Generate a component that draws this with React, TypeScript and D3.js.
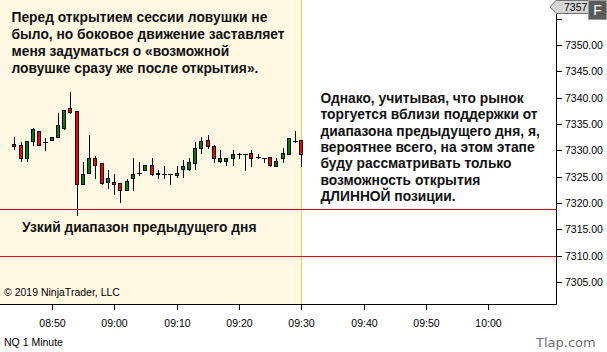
import React from 'react';
import * as d3 from 'd3';

const times = [
  "08:44", "08:45", "08:46", "08:47", "08:48", "08:49", "08:50", "08:51", "08:52", "08:53",
  "08:54", "08:55", "08:56", "08:57", "08:58", "08:59", "09:00", "09:01", "09:02", "09:03",
  "09:04", "09:05", "09:06", "09:07", "09:08", "09:09", "09:10", "09:11", "09:12", "09:13",
  "09:14", "09:15", "09:16", "09:17", "09:18", "09:19", "09:20", "09:21", "09:22", "09:23",
  "09:24", "09:25", "09:26", "09:27", "09:28", "09:29", "09:30",
];
const opens = [
  7331.25, 7331, 7328.5, 7331.75, 7333.75, 7331.5, 7332, 7332.5, 7334.25, 7338,
  7337.5, 7323.5, 7325.75, 7328.5, 7327.5, 7324, 7324, 7323.75, 7322.5, 7324.75,
  7325.75, 7326.25, 7327.25, 7325.75, 7325.5, 7325.5, 7325.25, 7326.5, 7326.5, 7327.5,
  7330.5, 7332, 7330.75, 7328, 7328, 7328.5, 7329.25, 7329.25, 7329.5, 7328.75,
  7328.5, 7328.75, 7327, 7328.5, 7329.25, 7331.75, 7332,
];
const highs = [
  7332.5, 7331.5, 7331.75, 7334.25, 7333.75, 7332.25, 7332.5, 7337, 7337.75, 7341,
  7337.5, 7327.75, 7333, 7329, 7327.5, 7326.25, 7325.5, 7323.75, 7324.5, 7328.5,
  7327.75, 7327.25, 7328.5, 7326.25, 7327, 7325.5, 7327, 7328.25, 7328.5, 7331.5,
  7332.5, 7333, 7331, 7330, 7328.5, 7330, 7329.5, 7329.25, 7330, 7329.25,
  7328.5, 7328.75, 7328.5, 7330.5, 7332.25, 7333.75, 7332,
];
const lows = [
  7330.25, 7328, 7328, 7331, 7331, 7330, 7332, 7332.5, 7334, 7337,
  7317.75, 7323.5, 7325.75, 7324.75, 7323.5, 7322.75, 7321.75, 7320.25, 7322.5, 7322.5,
  7325.25, 7326.25, 7325.25, 7324.75, 7324.75, 7323.5, 7325, 7325, 7326.25, 7326.5,
  7329.5, 7330.5, 7327.75, 7327.75, 7327.25, 7327.25, 7328.5, 7326.25, 7327, 7328.5,
  7327.75, 7327, 7327, 7327.75, 7329.25, 7331.5, 7327,
];
const closes = [
  7330.75, 7328.5, 7331.75, 7334, 7331, 7331.5, 7332.5, 7334.75, 7337.75, 7337.25,
  7323.5, 7325.5, 7328.5, 7327.25, 7323.75, 7324.75, 7323.5, 7322.5, 7324.25, 7325.5,
  7325.75, 7327.25, 7325.5, 7325.5, 7325.5, 7325.5, 7325.75, 7327, 7327.75, 7330.5,
  7331.75, 7330.75, 7328.5, 7328.5, 7328.5, 7329.25, 7329.25, 7329.25, 7328.5, 7328.75,
  7328.5, 7327.25, 7328, 7329.5, 7332.25, 7331.75, 7329.25,
];

const xTickLabels = ["08:50", "09:00", "09:10", "09:20", "09:30", "09:40", "09:50", "10:00"];
const yTickValues = [7305, 7310, 7315, 7320, 7325, 7330, 7335, 7340, 7345, 7350, 7355];
const yLabelValues = [7305, 7310, 7315, 7320, 7325, 7330, 7335, 7340, 7345, 7350];
const levelLines = [7318.75, 7310];
const lastPrice = 7357.25;
const sessionOpen = "09:30";

const noteTop = [
  "Перед открытием сессии ловушки не",
  "было, но боковое движение заставляет",
  "меня задуматься о «возможной",
  "ловушке сразу же после открытия».",
];
const noteRight = [
  "Однако, учитывая, что рынок",
  "торгуется вблизи поддержки от",
  "диапазона предыдущего дня, я,",
  "вероятнее всего, на этом этапе",
  "буду рассматривать только",
  "возможность открытия",
  "ДЛИННОЙ позиции.",
];
const noteLevel = "Узкий диапазон предыдущего дня";

const toDate = (s: string) => {
  const [h, m] = s.split(":").map(Number);
  return new Date(2019, 0, 2, h, m);
};

export default function App() {
  const W = 607, H = 352;
  const plotR = 556, plotB = 304;
  const x = d3.scaleTime().domain([toDate("08:44"), toDate("09:30")]).range([14.3, 301.3]);
  const y = d3.scaleLinear().domain([7310, 7350]).range([255.5, 45.1]);
  const sessX = Math.round(x(toDate(sessionOpen))) + 0.5;
  const axisFont = "Arial, 'Liberation Sans', sans-serif";
  const noteFont = "Arial, 'Liberation Sans', sans-serif";
  const noteSize = 13.8;
  const markerY = y(lastPrice);

  return (
    <svg width={W} height={H} style={{ position: 'absolute', left: 0, top: 0, background: '#fff' }}>
      <rect x={0} y={0} width={W} height={H} fill="#ffffff" />
      <rect x={0} y={0} width={sessX} height={plotB} fill="#FFF9E3" />
      <line x1={sessX} x2={sessX} y1={0} y2={plotB} stroke="#FFCF3A" strokeWidth={1} />

      {levelLines.map((v, i) => {
        const yy = Math.round(y(v)) + 0.5;
        return <line key={i} x1={0} x2={plotR} y1={yy} y2={yy} stroke={i === 0 ? "#D00000" : "#FF0000"} strokeWidth={1} />;
      })}

      {times.map((t, i) => {
        const cx = Math.round(x(toDate(t)));
        const o = opens[i], c = closes[i], h = highs[i], l = lows[i];
        const yH = Math.round(y(h)), yL = Math.round(y(l));
        const yTop = Math.round(y(Math.max(o, c)));
        const yBot = Math.round(y(Math.min(o, c)));
        const up = c > o;
        return (
          <g key={t}>
            <rect x={cx} y={yH} width={1} height={Math.max(1, yL - yH + 1)} fill="#000" />
            {o === c ? (
              <rect x={cx - 2} y={yTop} width={5} height={1} fill="#000" />
            ) : (
              <>
                <rect x={cx - 2} y={yTop} width={4} height={yBot - yTop + 1} fill="#000" />
                {yBot - yTop - 1 > 0 && (
                  <rect x={cx - 1} y={yTop + 1} width={2} height={yBot - yTop - 1} fill={up ? "#008000" : "#FF0000"} />
                )}
              </>
            )}
          </g>
        );
      })}

      {/* axes */}
      <line x1={0} x2={plotR + 0.5} y1={plotB + 0.5} y2={plotB + 0.5} stroke="#000" />
      <line x1={plotR + 0.5} x2={plotR + 0.5} y1={0} y2={plotB + 0.5} stroke="#000" />

      {xTickLabels.map((s) => {
        const xx = Math.round(x(toDate(s))) + 0.5;
        return (
          <g key={s}>
            <line x1={xx} x2={xx} y1={plotB + 1} y2={plotB + 6} stroke="#000" />
            <text x={xx} y={327} textAnchor="middle" fontFamily={axisFont} fontSize={10.5} fill="#000">{s}</text>
          </g>
        );
      })}

      {yTickValues.map((v) => {
        const yy = Math.round(y(v)) + 0.5;
        return <line key={v} x1={plotR + 1} x2={plotR + 6} y1={yy} y2={yy} stroke="#000" />;
      })}
      {yLabelValues.map((v) => (
        <text key={v} x={565} y={y(v) + 4} fontFamily={axisFont} fontSize={10.5} fill="#000">{v.toFixed(2)}</text>
      ))}

      {/* last price marker */}
      <polygon
        points={`550,${markerY} 556,${markerY - 6.5} 607,${markerY - 6.5} 607,${markerY + 6.5} 556,${markerY + 6.5}`}
        fill="#D6D6D6" stroke="#6E6E6E" strokeWidth={1}
      />
      <text x={564} y={markerY + 4} fontFamily={axisFont} fontSize={10.5} fill="#000">{String(Math.floor(lastPrice))}</text>
      <rect x={588.5} y={0.5} width={18} height={19} fill="#5A5A5A" stroke="#9A9A9A" />
      <text x={597.5} y={15} textAnchor="middle" fontFamily={axisFont} fontSize={14} fill="#fff">F</text>

      {/* notes */}
      {noteTop.map((s, i) => (
        <text key={i} x={11.5} y={21.5 + i * 17} fontFamily={noteFont} fontWeight="bold" fontSize={noteSize} fill="#111">{s}</text>
      ))}
      {noteRight.map((s, i) => (
        <text key={i} x={320.5} y={103 + i * 16.33} fontFamily={noteFont} fontWeight="bold" fontSize={noteSize} fill="#111">{s}</text>
      ))}
      <text x={22} y={232} fontFamily={noteFont} fontWeight="bold" fontSize={noteSize} fill="#111">{noteLevel}</text>

      <text x={4} y={296} fontFamily={axisFont} fontSize={10.5} fill="#000">© 2019 NinjaTrader, LLC</text>
      <text x={4} y={346} fontFamily={axisFont} fontSize={10.5} fill="#000">NQ 1 Minute</text>
      <text x={536} y={347} fontFamily="'DejaVu Sans', sans-serif" fontSize={13} fill="#707070">Tlap.com</text>
    </svg>
  );
}
